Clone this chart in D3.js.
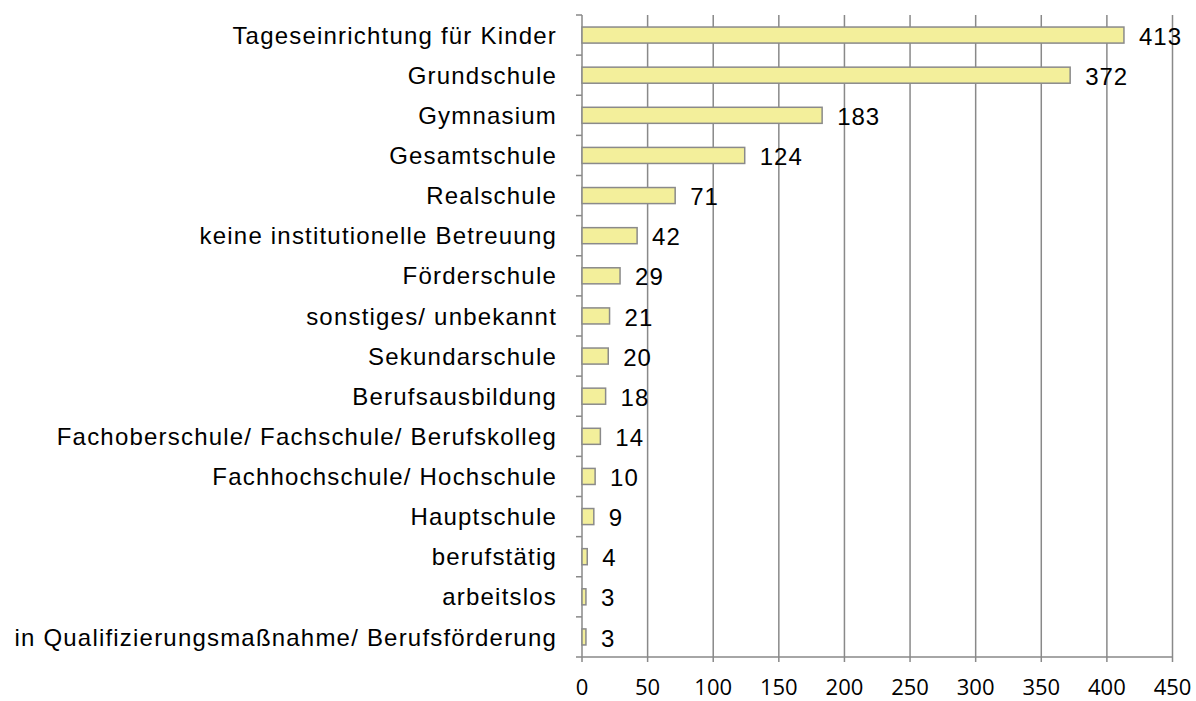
<!DOCTYPE html>
<html>
<head>
<meta charset="utf-8">
<script src="https://cdn.jsdelivr.net/npm/d3@7"></script>
<style>
  body { margin: 0; background: #fff; }
  text { font-family: "Liberation Sans", Arial, sans-serif; fill: #000; }
  .ticklabel { font-family: "Open Sans", sans-serif; }
</style>
</head>
<body>
<div id="chart"></div>
<script>

// Data.
const categories = [
	"Tageseinrichtung für Kinder",
	"Grundschule",
	"Gymnasium",
	"Gesamtschule",
	"Realschule",
	"keine institutionelle Betreuung",
	"Förderschule",
	"sonstiges/ unbekannt",
	"Sekundarschule",
	"Berufsausbildung",
	"Fachoberschule/ Fachschule/ Berufskolleg",
	"Fachhochschule/ Hochschule",
	"Hauptschule",
	"berufstätig",
	"arbeitslos",
	"in Qualifizierungsmaßnahme/ Berufsförderung"
];
const values = [413, 372, 183, 124, 71, 42, 29, 21, 20, 18, 14, 10, 9, 4, 3, 3];
const xTicks = [0, 50, 100, 150, 200, 250, 300, 350, 400, 450];

// Dimensions
const W = 1196, H = 701;
let margin = { top: 15, right: 23.5, bottom: 44, left: 582 },
	width = W - margin.left - margin.right,
	height = H - margin.top - margin.bottom;

let svg = d3.select("#chart").append("svg")
	.attr("width", W)
	.attr("height", H);

let g = svg.append("g")
	.attr("transform", "translate(" + margin.left + "," + margin.top + ")");

// Scales
let x = d3.scaleLinear()
	.domain([0, 450])
	.range([0, width]);

let y = d3.scaleBand()
	.domain(categories)
	.range([0, height])
	.paddingInner(0.6)
	.paddingOuter(0.3);

const step = height / categories.length;
const gridColor = "#898989";

// Vertical gridlines (with tick marks below the axis)
g.append("g")
	.selectAll("line")
	.data(xTicks.slice(1))
	.join("line")
	.attr("x1", d => x(d)).attr("x2", d => x(d))
	.attr("y1", 0).attr("y2", height + 5)
	.attr("stroke", gridColor)
	.attr("stroke-width", 1.5);

// axis lines
g.append("line")
	.attr("x1", -6).attr("x2", x(450))
	.attr("y1", height).attr("y2", height)
	.attr("stroke", gridColor).attr("stroke-width", 1.5);
g.append("line")
	.attr("x1", 0).attr("x2", 0)
	.attr("y1", 0).attr("y2", height + 5)
	.attr("stroke", gridColor).attr("stroke-width", 1.5);

// category ticks on the y axis (band boundaries)
g.append("g")
	.selectAll("line")
	.data(d3.range(categories.length))
	.join("line")
	.attr("x1", -6).attr("x2", 0)
	.attr("y1", i => i * step).attr("y2", i => i * step)
	.attr("stroke", gridColor).attr("stroke-width", 1.5);

// x tick labels
g.append("g")
	.selectAll("text")
	.data(xTicks)
	.join("text")
	.attr("class", "ticklabel")
	.attr("x", d => x(d))
	.attr("y", height + 38)
	.attr("text-anchor", "middle")
	.style("font-size", "22px")
	.text(d => d);

// Bars
g.append("g")
	.selectAll("rect")
	.data(values)
	.join("rect")
	.attr("x", 0)
	.attr("y", (d, i) => y(categories[i]))
	.attr("width", d => x(d))
	.attr("height", y.bandwidth())
	.attr("fill", "#f3ef9b")
	.attr("stroke", "#8a8a8a")
	.attr("stroke-width", 1.5);

// Category labels
g.append("g")
	.selectAll("text")
	.data(categories)
	.join("text")
	.attr("x", -25)
	.attr("y", d => y(d) + y.bandwidth() / 2)
	.attr("dy", "0.36em")
	.attr("text-anchor", "end")
	.style("font-size", "24px")
	.style("letter-spacing", "1.2px")
	.text(d => d);

// Value labels
g.append("g")
	.selectAll("text")
	.data(values)
	.join("text")
	.attr("x", d => x(d) + 15)
	.attr("y", (d, i) => y(categories[i]) + y.bandwidth() / 2)
	.attr("dy", "0.4em")
	.style("font-size", "24px")
	.style("letter-spacing", "1px")
	.text(d => d);

</script>
</body>
</html>
